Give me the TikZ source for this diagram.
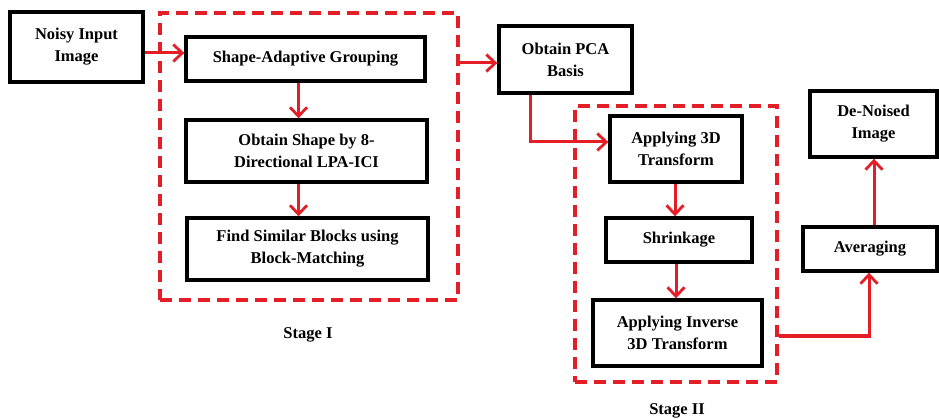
\documentclass[tikz,border=0pt]{standalone}
\usepackage{fontspec}
\setmainfont{Liberation Serif}
\usetikzlibrary{arrows.meta,calc}
\definecolor{flowred}{RGB}{228,30,38}
\begin{document}
\begin{tikzpicture}[x=1pt,y=-1pt,
  box/.style={draw=black,line width=3.4pt,fill=white,align=center,inner sep=0pt,
    font=\fontsize{16.5}{22}\selectfont\bfseries},
  stagebox/.style={draw=flowred,line width=3.6pt,dash pattern=on 12pt off 7pt,inner sep=0pt},
  arr/.style={draw=flowred,line width=3pt,-{Straight Barb[length=9pt,width=17pt,line width=2.8pt]}},
  lbl/.style={font=\fontsize{16.5}{22}\selectfont\bfseries}]
\useasboundingbox (0,0) rectangle (939,419);
\begin{scope}
\clip (0,0) rectangle (939,419);

% stage frames
\node[stagebox,minimum width=298pt,minimum height=287pt] (s1) at (309,156.5) {};
\node[stagebox,minimum width=202pt,minimum height=276pt] (s2) at (676,244) {};

% process boxes
\node[box,minimum width=133pt,minimum height=70pt] (noisy) at (76.5,47) {Noisy Input\\Image};
\node[box,minimum width=239pt,minimum height=44pt] (sag) at (305.5,59) {Shape-Adaptive Grouping};
\node[box,minimum width=241pt,minimum height=62pt] (shape) at (306.5,151) {Obtain Shape by 8-\\Directional LPA-ICI};
\node[box,minimum width=241pt,minimum height=62pt] (find) at (307.5,249) {Find Similar Blocks using\\Block-Matching};
\node[box,minimum width=133pt,minimum height=67pt] (pca) at (565.5,59.5) {Obtain PCA\\Basis};
\node[box,minimum width=132pt,minimum height=66pt] (app3d) at (676,149) {Applying 3D\\Transform};
\node[box,minimum width=146pt,minimum height=44pt] (shrink) at (679,240) {Shrinkage};
\node[box,minimum width=169pt,minimum height=66pt] (inverse) at (677.5,333) {Applying Inverse\\3D Transform};
\node[box,minimum width=134pt,minimum height=44pt] (avg) at (870,249) {Averaging};
\node[box,minimum width=127pt,minimum height=66pt] (denoised) at (873.5,124) {De-Noised\\Image};

% stage captions
\node[lbl] (cap1) at (308,335) {Stage I};
\node[lbl] (cap2) at (677,410.5) {Stage II};

% connectors
\draw[arr] ([yshift=-6pt]noisy.east) -- ([yshift=-6pt]noisy.east -| sag.west);
\draw[arr] ([xshift=-7pt]sag.south) -- ([xshift=-7pt]sag.south |- shape.north);
\draw[arr] ([xshift=-8pt]shape.south) -- ([xshift=-8pt]shape.south |- find.north);
\draw[arr] ([yshift=-3.5pt]pca.west -| s1.east) -- ([yshift=-3.5pt]pca.west);
\draw[arr] ([xshift=-35.5pt]pca.south) |- ([yshift=7pt]app3d.west);
\draw[arr] ([xshift=-1pt]app3d.south) -- ([xshift=-1pt]app3d.south |- shrink.north);
\draw[arr] ([xshift=-3pt]shrink.south) -- ([xshift=-3pt]shrink.south |- inverse.north);
\draw[arr] ([yshift=-3pt]inverse.east -| s2.east) -| ([xshift=-1pt]avg.south);
\draw[arr] ([xshift=4pt]avg.north) -- ([xshift=4pt]avg.north |- denoised.south);
\end{scope}
\end{tikzpicture}
\end{document}
